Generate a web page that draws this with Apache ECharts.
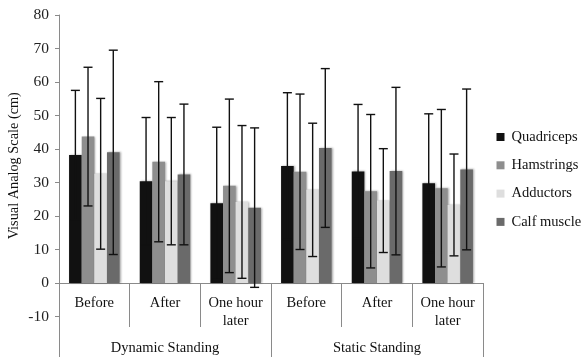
<!DOCTYPE html>
<html>
<head>
<meta charset="utf-8">
<script src="https://cdn.jsdelivr.net/npm/echarts@6/dist/echarts.min.js"></script>
<style>html,body{margin:0;padding:0;background:#fff}#c{width:582px;height:357px}</style>
</head>
<body>
<div id="c"></div>
<script>
const categories = ['Before', 'After', 'One hour\nlater', 'Before', 'After', 'One hour\nlater'];
const groups = ['Dynamic Standing', 'Static Standing'];
const seriesNames = ['Quadriceps', 'Hamstrings', 'Adductors', 'Calf muscle'];
const quadMean = [38.2, 30.4, 23.8, 34.9, 33.3, 29.8];
const quadSD   = [19.3, 19.0, 22.7, 21.9, 20.0, 20.7];
const hamMean  = [43.7, 36.2, 29.0, 33.2, 27.4, 28.3];
const hamSD    = [20.7, 23.9, 25.9, 23.2, 22.9, 23.5];
const addMean  = [32.6, 30.4, 24.2, 27.8, 24.6, 23.3];
const addSD    = [22.5, 19.0, 22.8, 19.9, 15.5, 15.2];
const calfMean = [39.0, 32.4, 22.5, 40.3, 33.4, 33.9];
const calfSD   = [30.5, 21.0, 23.8, 23.7, 25.0, 24.0];
const yTicks = [-10, 0, 10, 20, 30, 40, 50, 60, 70, 80];

const means = [quadMean, hamMean, addMean, calfMean];
const sds = [quadSD, hamSD, addSD, calfSD];
const colors = ['#111111', '#8e8e8e', '#dedede', '#6a6a6a'];
const FONT = "'Liberation Serif', 'Times New Roman', serif";
const CAT_GAP = 0.285;
const AXIS_COLOR = '#8a8a8a';

const chart = echarts.init(document.getElementById('c'));

const barSeries = seriesNames.map((name, i) => ({
  name: name,
  type: 'bar',
  xAxisIndex: 0,
  yAxisIndex: 0,
  data: means[i],
  barGap: '0%',
  barCategoryGap: (CAT_GAP * 100) + '%',
  itemStyle: { color: colors[i], shadowBlur: 2, shadowOffsetX: 1, shadowOffsetY: 0, shadowColor: 'rgba(0,0,0,0.35)' },
  z: 2
}));

const errSeries = seriesNames.map((name, i) => ({
  type: 'custom',
  xAxisIndex: 0,
  yAxisIndex: 0,
  silent: true,
  z: 5,
  data: means[i].map((m, k) => [k, m - sds[i][k], m + sds[i][k]]),
  encode: { x: 0, y: [1, 2] },
  renderItem: function (params, api) {
    const k = api.value(0);
    const lo = api.coord([k, api.value(1)]);
    const hi = api.coord([k, api.value(2)]);
    const band = api.size([1, 0])[0];
    const gw = band * (1 - CAT_GAP);
    const bw = gw / 4;
    const x = lo[0] - gw / 2 + bw * (i + 0.5);
    const cap = 4.5;
    const st = { stroke: '#111', lineWidth: 1.4 };
    return {
      type: 'group',
      children: [
        { type: 'line', shape: { x1: x, y1: lo[1], x2: x, y2: hi[1] }, style: st },
        { type: 'line', shape: { x1: x - cap, y1: hi[1], x2: x + cap, y2: hi[1] }, style: st },
        { type: 'line', shape: { x1: x - cap, y1: lo[1], x2: x + cap, y2: lo[1] }, style: st }
      ]
    };
  }
}));

chart.setOption({
  animation: false,
  textStyle: { fontFamily: FONT },
  grid: [
    { left: 59, right: 99, top: 15, bottom: 40.5, containLabel: false, outerBoundsMode: 'none' },
    { left: 59, right: 99, top: 15, bottom: 74, containLabel: false, outerBoundsMode: 'none' }
  ],
  legend: {
    data: seriesNames,
    orient: 'vertical',
    left: 496.5,
    top: 129,
    padding: 0,
    icon: 'rect',
    itemWidth: 8,
    itemHeight: 8,
    itemGap: 12.3,
    textStyle: { fontFamily: FONT, fontSize: 14.5, color: '#111', lineHeight: 16, padding: [0, 0, 0, 2] }
  },
  xAxis: [
    {
      type: 'category',
      gridIndex: 0,
      data: categories,
      show: false
    },
    {
      type: 'category',
      gridIndex: 1,
      position: 'bottom',
      data: categories,
      axisLine: { show: true, onZero: false, lineStyle: { color: AXIS_COLOR, width: 1 } },
      axisTick: { show: true, interval: 0, length: 44, lineStyle: { color: AXIS_COLOR, width: 1 } },
      axisLabel: { interval: 0, margin: 11, fontFamily: FONT, fontSize: 14.5, lineHeight: 18, color: '#111' },
      splitLine: { show: false }
    },
    {
      type: 'category',
      gridIndex: 1,
      position: 'bottom',
      offset: 0,
      data: groups,
      axisLine: { show: false, onZero: false },
      axisTick: { show: true, interval: 0, length: 74, lineStyle: { color: AXIS_COLOR, width: 1 } },
      axisLabel: { interval: 0, margin: 56, fontFamily: FONT, fontSize: 14.5, lineHeight: 18, color: '#111' },
      splitLine: { show: false }
    }
  ],
  yAxis: [
    {
      type: 'value',
      gridIndex: 0,
      min: yTicks[0],
      max: yTicks[yTicks.length - 1],
      interval: 10,
      name: 'Visual Analog Scale (cm)',
      nameLocation: 'middle',
      nameGap: 38,
      nameRotate: 90,
      nameMoveOverlap: false,
      nameTextStyle: { fontFamily: FONT, fontSize: 14.3, color: '#111' },
      axisLine: { show: true, lineStyle: { color: AXIS_COLOR, width: 1 } },
      axisTick: { show: true, length: 4, lineStyle: { color: AXIS_COLOR } },
      axisLabel: { margin: 10, fontFamily: FONT, fontSize: 15.5, color: '#222' },
      splitLine: { show: false }
    },
    {
      type: 'value',
      gridIndex: 1,
      show: false,
      min: 0,
      max: 80
    }
  ],
  series: barSeries.concat(errSeries)
});
</script>
</body>
</html>
